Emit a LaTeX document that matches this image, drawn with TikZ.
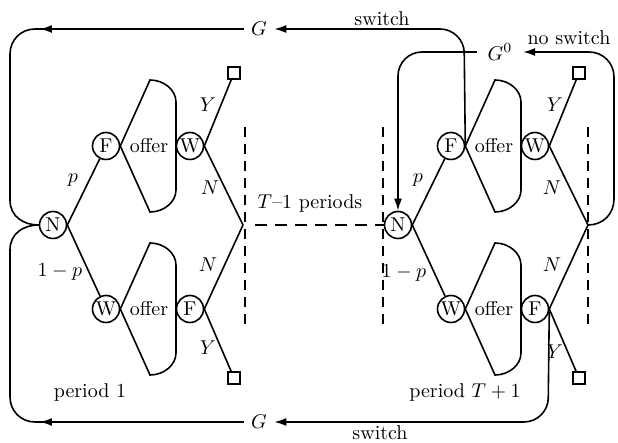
\documentclass[tikz,border=0pt]{standalone}
\usetikzlibrary{arrows.meta}
\begin{document}
\begin{tikzpicture}[x=0.5pt,y=-0.5pt, line width=0.8pt,
  player/.style={circle,draw,minimum size=13.5pt,inner sep=0pt},
  term/.style={rectangle,draw,minimum size=6pt,inner sep=0pt},
  lbl/.style={inner sep=0pt},
  tip/.style={-{Latex[length=6pt,width=4pt]}},
  dsh/.style={dash pattern=on 5pt off 3.5pt},
  rc/.style={rounded corners=12pt}]
\useasboundingbox (0,0) rectangle (618,443);

% left block (period 1)
\node[player] (NL) at (53,225) {N};
\node[player] (FUL) at (106,146) {F};
\node[lbl] (offUL) at (149,146) {offer};
\node[player] (WUL) at (190,146) {W};
\node[term] (sqUL) at (234,73) {};
\coordinate (ML) at (243,225);
\node[player] (WLL) at (106,309) {W};
\node[lbl] (offLL) at (149,309) {offer};
\node[player] (FLL) at (190,309) {F};
\node[term] (sqLL) at (234,378) {};

% right block (period T+1)
\node[player] (NR) at (398,225) {N};
\node[player] (FUR) at (451,146) {F};
\node[lbl] (offUR) at (494,146) {offer};
\node[player] (WUR) at (535,146) {W};
\node[term] (sqUR) at (579,73) {};
\coordinate (MR) at (588,225);
\node[player] (WLR) at (451,309) {W};
\node[lbl] (offLR) at (494,309) {offer};
\node[player] (FLR) at (535,309) {F};
\node[term] (sqLR) at (579,378) {};

% G nodes
\node (Gt) at (259,29) {$G$};
\node (Gb) at (259,422) {$G$};
\node[inner sep=5pt] (G0) at (500,52) {$G^0$};

% tree edges
\foreach \n/\f/\w/\fl/\wl/\su/\sl/\m in {NL/FUL/WUL/FLL/WLL/sqUL/sqLL/ML, NR/FUR/WUR/FLR/WLR/sqUR/sqLR/MR}{
  \draw (\n.east) -- (\f);
  \draw (\n.east) -- (\wl);
  \draw (\w.east) -- (\su);
  \draw (\w.east) -- (\m);
  \draw (\fl.east) -- (\sl);
  \draw (\fl.east) -- (\m);
}

% offer shapes
\foreach \n/\cx/\cy in {FUL/106/146, WLL/106/309, FUR/451/146, WLR/451/309}{
  \draw (\n.east) -- (\cx+44,\cy-66) .. controls (\cx+58,\cy-66) and (\cx+70,\cy-56) .. (\cx+70,\cy-44)
     -- (\cx+70,\cy+44) .. controls (\cx+70,\cy+56) and (\cx+58,\cy+66) .. (\cx+44,\cy+66) -- cycle;
}

% labels
\node[lbl] at (73,180) {$p$};
\node[lbl] at (60,272) {$1-p$};
\node[lbl] at (208,105) {$Y$};
\node[lbl] at (210,188) {$N$};
\node[lbl] at (208,265) {$N$};
\node[lbl] at (208,348) {$Y$};
\node[lbl] at (418,180) {$p$};
\node[lbl] at (404,273) {$1-p$};
\node[lbl] at (555,105) {$Y$};
\node[lbl] at (552,188) {$N$};
\node[lbl] at (552,265) {$N$};
\node[lbl] at (555,352) {$Y$};
\node[lbl] at (310,204) {$T$--1 periods};
\node[lbl] at (90,393) {period 1};
\node[lbl] at (465,393) {period $T+1$};

% dashed separators
\coordinate (d1a) at (245,127); \coordinate (d1b) at (245,325);
\coordinate (d2a) at (383,127); \coordinate (d2b) at (383,325);
\coordinate (d3a) at (588,127); \coordinate (d3b) at (588,325);
\coordinate (dh) at (255,225);
\draw[dsh] (d1a) -- (d1b);
\draw[dsh] (d2a) -- (d2b);
\draw[dsh] (d3a) -- (d3b);
\draw[dash pattern=on 6pt off 4pt] (dh) -- (NR.west);

% loops on the left
\coordinate (atl) at (40,29);
\coordinate (abl) at (40,422);
\draw (Gt.west) -- (35,29) .. controls (21,29) and (10,40) .. (10,54) -- (10,200)
   .. controls (10,217) and (24,225) .. (NL.west);
\draw[tip] (Gt.west) -- (atl);
\draw (Gb.west) -- (35,422) .. controls (21,422) and (10,411) .. (10,397) -- (10,250)
   .. controls (10,233) and (24,225) .. (NL.west);
\draw[tip] (Gb.west) -- (abl);

% switch / no switch
\coordinate (st) at (464,29);
\coordinate (sb) at (548,422);
\coordinate (g0c) at (398,52);
\draw[rc,tip] (FUR.east) -- (st) -- (Gt.east);
\draw[rc,tip] (FLR.east) -- (sb) -- (Gb.east);
\draw[rc,tip] (G0.west) -- (g0c) -- (NR.north);
\draw[tip] (MR) .. controls (603,225) and (614,214) .. (614,199) -- (614,77)
   .. controls (614,63) and (603,52) .. (589,52) -- (G0.east);
\node[anchor=base,inner sep=0pt] at (382,26) {switch};
\node[anchor=base,inner sep=0pt] at (569,45) {no switch};
\node[anchor=north,inner sep=0pt] at (380,425) {switch};
\end{tikzpicture}
\end{document}
